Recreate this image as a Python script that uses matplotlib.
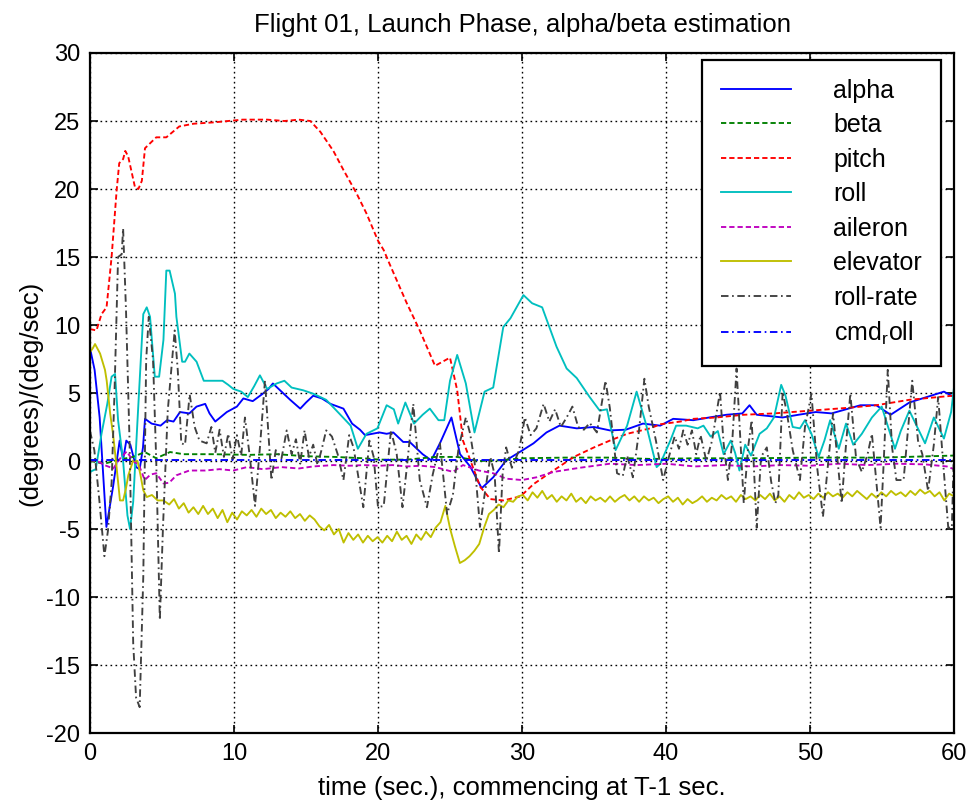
import numpy as np
import matplotlib
matplotlib.use("Agg")
import matplotlib.pyplot as plt

plt.rcParams['font.family'] = ['Liberation Sans', 'DejaVu Sans']
plt.rcParams['mathtext.fontset'] = 'custom'
plt.rcParams['mathtext.rm'] = 'Liberation Sans'
plt.rcParams['mathtext.it'] = 'Liberation Sans'
plt.rcParams['axes.unicode_minus'] = False

# ---------------- data ----------------
alpha_t = [0, 0.32, 0.67, 1.14, 1.6, 2.06, 2.3, 2.52, 2.8, 3.2, 3.45, 3.68, 3.82, 4.28, 4.9, 5.35,
           5.8, 6.25, 6.9, 7.4, 8.0, 8.3, 8.7, 9.5, 10.2, 10.65, 11.3, 12.0, 12.4, 12.7, 13.2,
           13.9, 14.6, 15.0, 15.5, 16.1, 16.7, 17.6, 18.2, 18.75, 19.1, 19.6, 20.1, 20.6, 21.06,
           21.75, 22.2, 23.1, 23.7, 24.3, 25.1, 25.7, 26.4, 27.2, 28.0, 28.9, 29.9, 30.8, 31.7,
           32.6, 33.8, 35.0, 36.1, 37.2, 38.4, 39.6, 40.5, 41.9, 43.0, 44.2, 45.3, 45.8, 46.3,
           47.2, 48.1, 49.2, 50.4, 51.5, 52.5, 53.5, 54.6, 55.6, 56.9, 58.1, 59.3, 60.0]
alpha_y = [8.3, 6.7, 3.2, -4.85, -1.9, 1.5, 0.1, 1.5, 1.2, -0.45, -0.6, 1.0, 3.1, 2.75, 2.6, 3.0,
           2.9, 3.6, 3.5, 4.0, 4.2, 3.5, 2.9, 3.6, 4.0, 4.6, 4.4, 4.95, 5.3, 5.7, 5.2,
           4.5, 3.85, 4.3, 4.8, 4.6, 4.2, 3.85, 2.75, 2.3, 1.9, 2.0, 2.1, 2.0, 2.1,
           1.4, 1.4, 0.5, 0.05, 1.3, 3.2, 0.5, -0.4, -2.0, -1.2, 0.05, 0.7, 1.3, 2.1,
           2.6, 2.4, 2.5, 2.25, 2.3, 2.75, 2.6, 3.1, 3.0, 3.2, 3.4, 3.5, 4.1, 3.4,
           3.3, 3.2, 3.4, 3.6, 3.5, 3.8, 4.1, 4.1, 3.4, 4.3, 4.7, 5.1, 4.7]

beta_t = [0, 1.0, 2.0, 3.0, 3.8, 4.6, 5.56, 6.5, 8.5, 11.0, 13.0, 15.0, 17.0, 19.0, 20.1, 22.0,
          24.0, 25.5, 27.0, 28.5, 30.0, 33.0, 36.0, 39.0, 42.0, 46.0, 50.0, 55.0, 60.0]
beta_y = [0.0, -0.2, 0.1, 0.3, 0.66, 0.2, 0.66, 0.5, 0.5, 0.45, 0.5, 0.35, 0.3, 0.2, 0.1, 0.1,
          0.3, 0.3, 0.0, 0.05, 0.2, 0.25, 0.25, 0.15, 0.2, 0.2, 0.25, 0.25, 0.4]

pitch_t = [0, 0.45, 0.8, 1.15, 1.5, 1.85, 2.03, 2.3, 2.45, 2.65, 3.13, 3.36, 3.6, 3.82, 4.6, 5.3,
           6.2, 7.2, 8.6, 10.6, 12.3, 13.5, 14.5, 15.3, 16.0, 16.9, 17.6, 18.5, 19.2, 20.0, 20.4,
           20.8, 22.0, 22.9, 23.96, 25.0, 25.5, 25.9, 26.5, 27.1, 27.8, 28.7, 29.9, 30.8, 31.9,
           33.6, 35.0, 36.1, 37.3, 38.9, 39.6, 41.0, 41.9, 43.5, 45.4, 47.5, 50.0, 52.5, 54.6,
           56.9, 59.9]
pitch_y = [9.7, 9.6, 10.8, 11.3, 15.0, 19.9, 21.9, 22.2, 22.8, 22.4, 20.1, 20.0, 20.6, 23.0, 23.8, 23.8,
           24.6, 24.8, 24.9, 25.1, 25.1, 25.0, 25.1, 25.0, 24.2, 22.8, 21.4, 19.7, 18.2, 16.2, 15.5,
           14.5, 11.6, 9.6, 7.0, 7.6, 5.2, 1.5, -0.2, -1.9, -2.8, -2.9, -2.6, -1.7, -0.9,
           0.3, 1.0, 1.5, 2.0, 2.4, 2.7, 2.9, 3.1, 3.2, 3.4, 3.5, 3.7, 3.9, 4.1,
           4.5, 4.8]

roll_t = [0, 0.4, 0.8, 1.2, 1.5, 1.74, 1.95, 2.3, 2.6, 2.78, 3.0, 3.3, 3.7, 3.94, 4.17, 4.5, 4.8,
          5.1, 5.3, 5.53, 5.9, 6.0, 6.4, 6.6, 6.9, 7.4, 7.9, 8.5, 9.2, 9.6, 9.95, 10.5, 10.96,
          11.4, 11.8, 12.3, 12.96, 13.5, 14.0, 14.8, 15.5, 16.4, 17.3, 18.1, 18.6, 19.2, 19.96,
          20.6, 21.1, 21.4, 21.9, 22.5, 23.1, 23.6, 24.2, 24.6, 25.0, 25.5, 26.1, 26.7, 27.4,
          28.0, 28.7, 29.2, 30.1, 30.7, 31.4, 32.4, 33.1, 33.8, 34.7, 35.4, 35.9, 36.5, 37.3,
          37.96, 38.6, 39.35, 39.6, 40.3, 40.7, 41.4, 42.2, 42.6, 43.1, 43.6, 44.0, 44.5, 44.8,
          45.1, 45.5, 45.9, 46.5, 47.0, 47.5, 48.0, 48.3, 48.8, 49.3, 49.65, 50.1, 50.6, 51.0,
          51.4, 52.0, 52.5, 53.0, 53.6, 54.3, 54.98, 55.9, 56.3, 56.9, 57.4, 57.99, 58.6, 59.3,
          59.8, 60.0]
roll_y = [-0.8, -0.6, 2.0, 4.2, 6.2, 6.4, 3.0, 0.0, -4.0, -5.0, -3.0, 3.0, 10.8, 11.3, 10.6, 6.2, 6.2,
          8.9, 14.0, 14.0, 12.3, 10.6, 7.3, 7.3, 7.9, 7.3, 5.9, 5.9, 5.9, 5.6, 5.3, 5.1, 4.7,
          5.5, 6.3, 5.3, 5.7, 5.9, 5.4, 5.2, 4.95, 4.5, 3.5, 2.6, 0.9, 2.0, 2.4,
          4.1, 3.8, 2.75, 4.3, 2.75, 3.4, 3.85, 3.0, 3.0, 5.9, 7.8, 5.7, 2.1, 5.1,
          5.4, 9.85, 10.5, 12.2, 11.6, 11.3, 8.4, 6.8, 6.1, 4.7, 3.7, 3.8, 0.8, 2.6,
          5.1, 2.75, -0.45, -0.2, 1.5, 2.6, 2.6, 2.4, 2.6, 1.8, 2.2, 0.5, 1.5, 0.6,
          -0.7, 1.2, 0.4, 2.0, 2.4, 3.2, 5.6, 4.8, 2.5, 2.4, 3.0, 2.0, 0.3, 1.5,
          3.0, 0.9, 2.75, 1.2, 2.0, 3.2, 4.0, 0.9, 2.2, 3.7, 2.6, 1.3, 3.2, 1.65,
          3.6, 5.4]

aileron_t = [0, 0.5, 1.0, 1.62, 2.1, 2.55, 3.0, 3.4, 3.8, 4.2, 4.6, 5.1, 5.5, 6.0, 6.9, 8.0, 9.0,
             9.95, 10.9, 12.0, 13.3, 14.5, 15.5, 16.9, 18.0, 19.0, 20.1, 21.0, 22.0, 23.0, 24.0,
             25.2, 25.9, 27.0, 28.0, 28.9, 30.0, 31.0, 32.2, 34.0, 36.1, 38.0, 40.0, 42.0, 44.0,
             46.0, 48.0, 50.0, 52.0, 54.0, 56.0, 58.0, 59.5, 60.0]
aileron_y = [0.05, 0.0, -0.3, -0.55, 0.2, 0.7, 0.0, -0.3, -1.4, -1.0, -0.9, -1.65, -1.6, -1.05, -0.7, -0.7, -0.6,
             -0.7, -0.45, -0.6, -0.45, -0.55, -0.4, -0.3, -0.35, -0.3, -0.35, -0.3, -0.4, -0.35, -0.45,
             -0.8, -0.3, -0.7, -0.9, -1.3, -1.4, -1.2, -0.8, -0.5, -0.2, -0.3, -0.2, -0.4, -0.3,
             -0.4, -0.3, -0.35, -0.2, -0.3, -0.2, -0.25, -0.4, -0.6]

elev_start_t = [0, 0.2, 0.35, 0.55, 0.7, 1.04, 1.16, 1.4, 1.62, 1.85, 2.08, 2.3, 2.5, 2.66, 3.0,
                3.3, 3.5, 3.7, 3.94, 4.3, 4.7, 5.1]
elev_start_y = [8.0, 8.3, 8.6, 8.2, 7.9, 6.7, 5.9, 3.5, 1.8, -0.5, -2.9, -2.9, -2.0, -1.05, 0.05,
                0.0, -1.0, -2.15, -2.65, -2.5, -2.9, -2.9]
# samples from 5.5 s to 60 s
elev_rest_y = [-3.2, -2.8, -3.5, -3.1, -3.8, -3.4, -3.9,
               -3.3, -3.9, -3.5, -4.2, -3.6, -4.5,
               -3.8, -4.3, -3.7, -4.0, -3.6, -4.1,
               -3.5, -3.9, -3.6, -4.2, -3.8, -4.1,
               -3.7, -4.2, -3.9, -4.4, -4.0, -4.3,
               -4.8, -5.1, -4.7, -5.4, -5.0, -6.0,
               -5.3, -5.8, -5.4, -6.0, -5.5, -5.9,
               -5.6, -6.0, -5.5, -5.9, -5.2, -5.8,
               -5.5, -6.1, -5.4, -5.8, -5.2, -5.6,
               -4.9, -4.5, -3.3,
               -5.0, -6.3, -7.5,
               -7.3, -7.0, -6.6,
               -6.1, -4.9, -3.9,
               -3.6, -3.2, -3.4, -2.9, -3.0, -2.6,
               -2.5, -2.9, -2.3, -2.7, -2.2, -2.8,
               -2.5, -3.0, -2.6, -2.9, -2.4, -3.0,
               -2.7, -3.1, -2.6, -2.9, -2.7, -3.0,
               -2.6, -3.0, -2.7, -2.5, -2.9, -2.6,
               -3.0, -2.6, -2.9, -2.7, -3.1, -2.8,
               -2.6, -3.0, -2.7, -3.2, -2.8, -3.1,
               -2.9, -2.6, -3.0, -2.7, -2.9, -2.5,
               -2.8, -2.6, -3.0, -2.5, -2.8, -2.6,
               -2.9, -2.5, -2.8, -2.4, -2.9, -2.6,
               -3.0, -2.5, -2.8, -2.3, -2.7, -2.5,
               -2.8, -2.4, -2.7, -2.3, -2.6, -2.4,
               -2.7, -2.3, -2.6, -2.2, -2.5, -2.8,
               -2.4, -2.7, -2.3, -2.6, -2.2, -2.5,
               -2.3, -2.6, -2.2, -2.5, -2.1, -2.4,
               -2.2, -2.6, -2.3, -2.9, -2.4, -2.6]

rr_t = [0, 0.3, 0.65, 1.0, 1.25, 1.5, 1.7, 1.95, 2.2, 2.3, 2.5, 2.75, 3.0, 3.2, 3.45, 3.7, 3.9,
        4.08, 4.38, 4.6, 4.85, 5.07, 5.4, 5.88, 6.1, 6.34, 6.6, 6.92, 7.27, 7.6, 8.1, 8.43, 8.7,
        9.0, 9.3, 9.6, 9.9, 10.2, 10.5, 10.76, 11.1, 11.46, 11.8, 12.15, 12.6, 12.9, 13.3, 13.66,
        14.0, 14.3, 14.6, 14.9, 15.2, 15.5, 15.8, 16.1, 16.4, 16.8, 17.2, 17.6, 18.0, 18.3,
        18.98, 19.4, 19.7, 20.0, 20.4, 20.9, 21.3, 21.7, 22.0, 22.45, 22.9, 23.4, 23.8, 24.3,
        24.8, 25.2, 25.6, 26.1, 26.4, 26.7, 27.08, 27.4, 27.8, 28.1, 28.4, 28.65, 28.9, 29.3,
        29.8, 30.2, 30.6, 31.0, 31.5, 31.9, 32.3, 32.7, 33.1, 33.5, 33.9, 34.3, 34.7, 35.2,
        35.8, 36.1, 36.6, 37.0, 37.3, 37.7, 38.1, 38.5, 38.8, 39.3, 39.8, 40.2, 40.6, 40.9,
        41.2, 41.5, 41.8, 42.1, 42.4, 42.8, 43.2, 43.75, 44.0, 44.3, 44.6, 44.9, 45.15, 45.4,
        45.7, 45.95, 46.3, 46.6, 47.0, 47.3, 47.6, 47.8, 48.1, 48.4, 48.8, 49.3, 49.65, 50.1,
        50.5, 50.9, 51.2, 51.6, 51.9, 52.2, 52.5, 52.8, 53.2, 53.6, 54.0, 54.3, 54.9, 55.1,
        55.4, 55.7, 56.0, 56.5, 57.1, 57.5, 57.8, 58.2, 58.6, 58.9, 59.2, 59.6, 59.85, 60.0]
rr_y = [2.2, 0.8, -2.9, -7.0, -5.1, -1.6, 5.0, 15.0, 15.2, 17.1, 11.1, 1.3, -13.4, -17.4, -18.1, -8.5, 7.4,
        10.6, 7.4, 0.0, -11.7, -4.8, 3.7, 9.6, 6.6, 1.3, 1.2, 4.9, 2.5, 1.5, 1.3, 2.5, 0.6,
        2.3, 0.3, 2.0, 0.1, 1.9, 0.4, 3.2, 0.3, -3.3, 1.0, 5.9, -1.4, 0.8, 0.2, 2.25,
        0.5, 1.6, -0.2, 2.25, 0.3, 1.2, -0.3, 0.9, 2.25, 1.8, 0.5, -1.4, 1.9, 1.0,
        -3.4, 1.5, 0.3, -3.4, -3.3, 2.25, 0.5, -3.4, -0.5, 4.2, -1.4, -3.4, -1.0, 1.3,
        -3.9, -2.5, 1.0, 3.2, 2.0, 0.0, -4.85, -2.5, 0.3, -1.0, -6.8, -1.0, 1.0, -0.5,
        0.8, 3.2, 1.9, 2.4, 4.2, 2.9, 3.8, 2.5, 3.2, 4.0, 2.5, 2.3, 2.8, 2.1,
        5.9, 3.9, -0.9, -1.1, 0.4, -1.2, 2.0, 6.05, 4.0, 1.5, -1.4, 0.3, 1.8, 0.9,
        2.25, 1.2, 2.25, 0.5, 1.9, 0.0, 1.5, 5.1, 1.3, -1.4, 1.4, 6.8, 1.8, -3.1,
        1.0, 3.0, -4.9, 0.3, 1.0, -1.5, -3.1, -2.5, 5.1, 3.5, 0.8, -1.4, 2.5, 4.95,
        -0.5, -4.1, -0.8, 3.5, 0.2, -3.1, 1.2, 4.95, 0.2, -0.8, 0.5, 2.0, -4.9, -0.5,
        6.7, 1.0, -1.4, -1.4, 5.9, 1.5, 0.5, -2.2, 1.2, 4.7, 0.5, -4.9, -4.9, 1.0]

cmd_t = [0, 60]
cmd_y = [0.05, 0.05]

labels = ['alpha', 'beta', 'pitch', 'roll', 'aileron', 'elevator', 'roll-rate', 'cmd$_{\\mathrm{r}}$oll']
xticks = [0, 10, 20, 30, 40, 50, 60]
yticks = [-20, -15, -10, -5, 0, 5, 10, 15, 20, 25, 30]

# ---------------- figure ----------------
W, H = 972, 805
fig = plt.figure(figsize=(W / 100, H / 100), dpi=100)
ax = fig.add_axes([90 / W, 1 - 733 / H, 864 / W, 680 / H])

elev_t = list(elev_start_t) + list(np.linspace(5.5, 60, len(elev_rest_y)))
elev_y = list(elev_start_y) + list(elev_rest_y)

lw = 1.35
dash = (0, (2.8, 1.6))
dashdot = (0, (4.0, 1.9, 0.9, 1.9))
ax.plot(alpha_t, alpha_y, color=(0, 0, 1), lw=lw, label=labels[0])
ax.plot(beta_t, beta_y, color=(0, 0.5, 0), lw=lw, ls=dash, label=labels[1])
ax.plot(pitch_t, pitch_y, color=(1, 0, 0), lw=lw, ls=dash, label=labels[2])
ax.plot(roll_t, roll_y, color=(0, 0.75, 0.75), lw=lw, label=labels[3])
ax.plot(aileron_t, aileron_y, color=(0.75, 0, 0.75), lw=lw, ls=dash, label=labels[4])
ax.plot(elev_t, elev_y, color=(0.75, 0.75, 0), lw=lw, label=labels[5])
ax.plot(rr_t, rr_y, color=(0.25, 0.25, 0.25), lw=lw, ls=dashdot, label=labels[6])
ax.plot(cmd_t, cmd_y, color=(0, 0, 1), lw=lw, ls=dashdot, label=labels[7])

ax.set_xlim(0, 60)
ax.set_ylim(-20, 30)
ax.set_xticks(xticks)
ax.set_yticks(yticks)
ax.tick_params(direction='in', length=6, width=1.2, top=True, right=True,
               labelsize=17, pad=7, colors='black')
ax.grid(True, color='black', linestyle=(0, (1.2, 2.4)), linewidth=1.0)
for s in ax.spines.values():
    s.set_linewidth(1.6)
    s.set_color('black')

ax.set_title('Flight 01, Launch Phase, alpha/beta estimation', fontsize=18.5, pad=15)
ax.set_xlabel('time (sec.), commencing at T-1 sec.', fontsize=18.5, labelpad=8)
ax.set_ylabel('(degrees)/(deg/sec)', fontsize=18.5, labelpad=3)

leg = ax.legend(loc='upper right', bbox_to_anchor=((941 - 90) / 864, (733 - 60) / 680),
                borderaxespad=0, fontsize=18, handlelength=2.8, handletextpad=1.7,
                labelspacing=0.42, borderpad=0.75, fancybox=False,
                framealpha=1, edgecolor='black')
leg.get_frame().set_linewidth(1.6)

fig.savefig('out.png', dpi=100, facecolor='white')
